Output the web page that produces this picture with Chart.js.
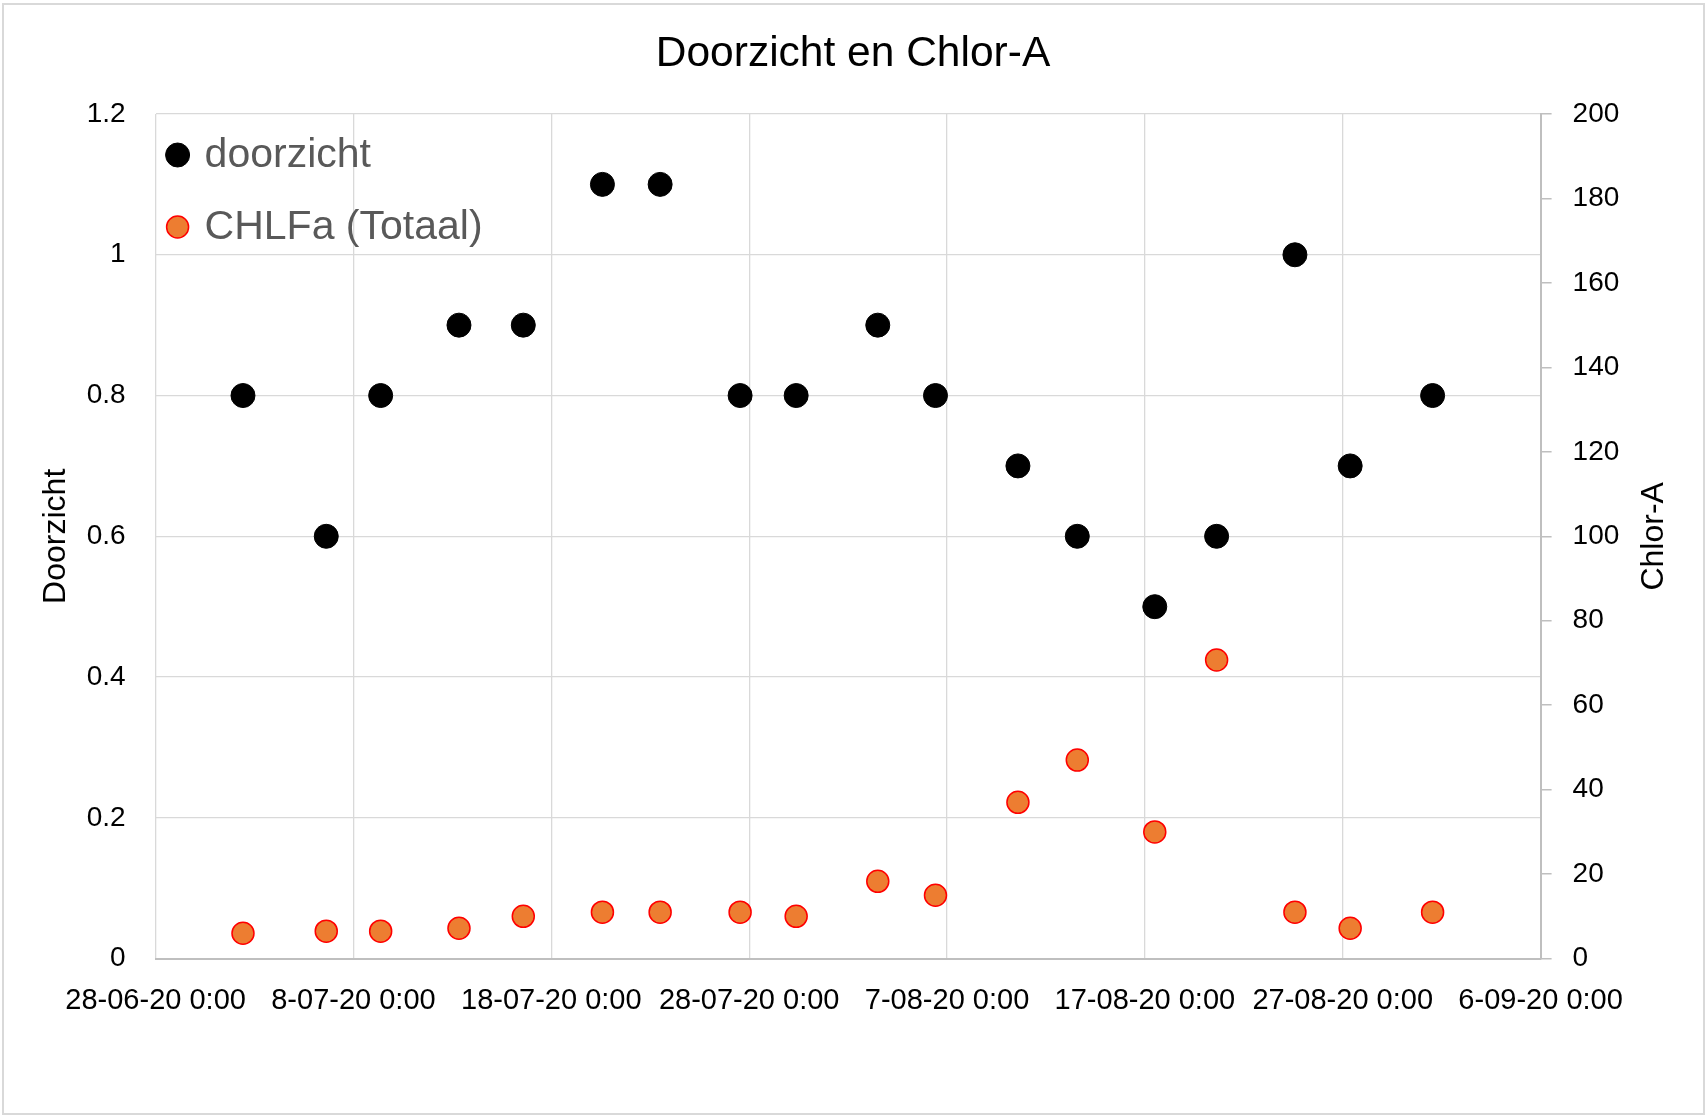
<!DOCTYPE html>
<html>
<head>
<meta charset="utf-8">
<script src="https://cdn.jsdelivr.net/npm/chart.js@4.4.1/dist/chart.umd.min.js"></script>
<style>
  html, body { margin: 0; padding: 0; background: #fff; }
  #wrap { position: absolute; left: 0; top: 0; width: 1706px; height: 1117px; }
  #frame { position: absolute; left: 2px; top: 3px; width: 1699px; height: 1108px;
           border: 2px solid #d9d9d9; pointer-events: none; }
</style>
</head>
<body>
<div id="wrap"><canvas id="chart"></canvas></div>
<div id="frame"></div>
<script>
// sample moments
var sampleDates = [
  "2020-07-02 10:00", "2020-07-06 15:00", "2020-07-09 09:00", "2020-07-13 08:00",
  "2020-07-16 14:00", "2020-07-20 14:00", "2020-07-23 12:00", "2020-07-27 13:00",
  "2020-07-30 09:00", "2020-08-03 12:00", "2020-08-06 10:00", "2020-08-10 14:00",
  "2020-08-13 14:00", "2020-08-17 12:00", "2020-08-20 15:00", "2020-08-24 14:00",
  "2020-08-27 09:00", "2020-08-31 13:00"
];
var doorzicht = [0.8, 0.6, 0.8, 0.9, 0.9, 1.1, 1.1, 0.8, 0.8, 0.9, 0.8, 0.7, 0.6, 0.5, 0.6, 1.0, 0.7, 0.8];
var chlfa = [6, 6.5, 6.5, 7.2, 10, 11, 11, 11, 10, 18.3, 15, 37, 47, 30, 70.7, 11, 7.2, 11];

var axisStart = "2020-06-28 00:00";   // 28-06-20 0:00
var axisEnd = "2020-09-06 00:00";     // 6-09-20 0:00
var tickDays = 10;

function parseStamp(s) {
  var m = s.match(/(\d+)-(\d+)-(\d+) (\d+):(\d+)/);
  return Date.UTC(+m[1], +m[2] - 1, +m[3], +m[4], +m[5]);
}
var DAY = 86400000;
var base = parseStamp(axisStart);
function toDays(s) { return (parseStamp(s) - base) / DAY; }

function fmtTick(v) {
  var d = new Date(base + v * DAY);
  var mm = String(d.getUTCMonth() + 1).padStart(2, "0");
  var yy = String(d.getUTCFullYear()).slice(2);
  return d.getUTCDate() + "-" + mm + "-" + yy + " 0:00";
}

var FONT = "'Liberation Sans', Arial, sans-serif";

// legend drawn inside the plot, top left, like the original
var innerLegend = {
  id: "innerLegend",
  afterDraw: function(chart) {
    var ctx = chart.ctx, a = chart.chartArea;
    ctx.save();
    chart.data.datasets.forEach(function(ds, i) {
      var cy = a.top + 41 + i * 72;
      var cx = a.left + 22;
      ctx.beginPath();
      ctx.arc(cx, cy, i === 0 ? 12 : 11, 0, Math.PI * 2);
      ctx.fillStyle = ds.backgroundColor;
      ctx.fill();
      ctx.lineWidth = ds.borderWidth;
      ctx.strokeStyle = ds.borderColor;
      ctx.stroke();
      ctx.fillStyle = "#595959";
      ctx.font = "41px " + FONT;
      ctx.textBaseline = "middle";
      ctx.textAlign = "left";
      ctx.fillText(ds.label, a.left + 49, cy + 1);
    });
    ctx.restore();
  }
};

// right axis title reads bottom-to-top in the original
var rightTitle = {
  id: "rightTitle",
  afterDraw: function(chart) {
    var ctx = chart.ctx, a = chart.chartArea;
    ctx.save();
    ctx.translate(1654, (a.top + a.bottom) / 2);
    ctx.rotate(-Math.PI / 2);
    ctx.font = "32px " + FONT;
    ctx.fillStyle = "#000";
    ctx.textAlign = "center";
    ctx.textBaseline = "middle";
    ctx.fillText("Chlor-A", 0, 0);
    ctx.restore();
  }
};

var ctx = document.getElementById("chart").getContext("2d");
var myChart = new Chart(ctx, {
  type: "scatter",
  data: {
    datasets: [{
      label: "doorzicht",
      data: sampleDates.map(function(s, i) { return { x: toDays(s), y: doorzicht[i] }; }),
      backgroundColor: "#000000",
      borderColor: "#000000",
      borderWidth: 1,
      pointRadius: 12,
      pointHoverRadius: 12,
      yAxisID: "y"
    }, {
      label: "CHLFa (Totaal)",
      data: sampleDates.map(function(s, i) { return { x: toDays(s), y: chlfa[i] }; }),
      backgroundColor: "#ed7d31",
      borderColor: "#ff0000",
      borderWidth: 1.5,
      pointRadius: 11,
      pointHoverRadius: 11,
      yAxisID: "y1"
    }]
  },
  options: {
    responsive: true,
    maintainAspectRatio: false,
    animation: false,
    layout: { padding: 0 },
    plugins: {
      legend: { display: false },
      tooltip: { enabled: false },
      title: {
        display: true,
        text: "Doorzicht en Chlor-A",
        color: "#000",
        font: { family: FONT, size: 42.5, weight: "normal" },
        padding: { top: 29, bottom: 34 }
      }
    },
    scales: {
      x: {
        type: "linear",
        min: 0,
        max: toDays(axisEnd),
        afterBuildTicks: function(scale) {
          var t = [];
          for (var v = 0; v <= toDays(axisEnd); v += tickDays) t.push({ value: v });
          scale.ticks = t;
        },
        afterFit: function(scale) { scale.height = 158.4; },
        grid: { color: "#d9d9d9", lineWidth: 1.3, drawTicks: false },
        border: { display: true, color: "#bfbfbf", width: 2 },
        ticks: {
          color: "#000",
          font: { family: FONT, size: 29 },
          padding: 25,
          maxRotation: 0,
          autoSkip: false,
          callback: function(v) { return fmtTick(v); }
        }
      },
      y: {
        position: "left",
        min: 0,
        max: 1.2,
        afterFit: function(scale) { scale.width = 155.6; },
        grid: { color: "#d9d9d9", lineWidth: 1.3, drawTicks: false },
        border: { display: false },
        ticks: {
          stepSize: 0.2,
          color: "#000",
          font: { family: FONT, size: 28 },
          padding: 30,
          callback: function(v) { return Math.round(v * 10) / 10; }
        },
        title: {
          display: true,
          text: "Doorzicht",
          color: "#000",
          font: { family: FONT, size: 32 },
          padding: { top: 37, bottom: 0 }
        }
      },
      y1: {
        position: "right",
        min: 0,
        max: 200,
        afterFit: function(scale) { scale.width = 165.4; },
        grid: { drawOnChartArea: false, drawTicks: true, tickLength: 11, color: "#bfbfbf", lineWidth: 1.5 },
        border: { display: true, color: "#bfbfbf", width: 2 },
        ticks: {
          stepSize: 20,
          color: "#000",
          font: { family: FONT, size: 28 },
          padding: 21
        }
      }
    }
  },
  plugins: [innerLegend, rightTitle]
});
</script>
</body>
</html>
